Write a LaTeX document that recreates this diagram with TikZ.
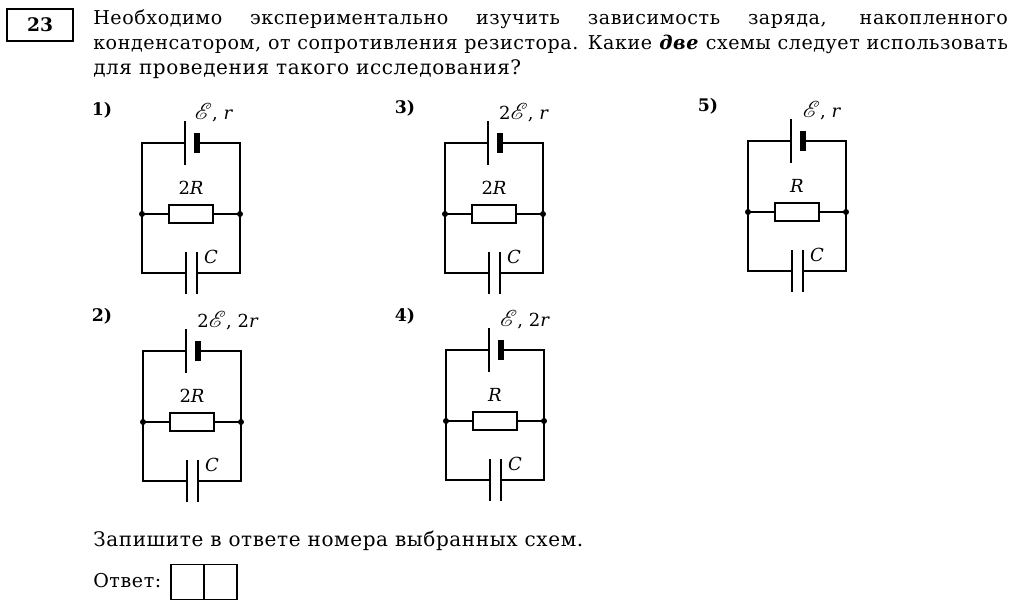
\documentclass[tikz,border=0pt]{standalone}
\usepackage{amsmath}
\usepackage{amssymb}
\usepackage{mathrsfs}
\usepackage{fontspec}
\setmainfont{DejaVu Serif}[LetterSpace=3]
\newfontfamily\labfont{DejaVu Serif}
\newcommand{\emf}{{\fontsize{17pt}{17pt}\selectfont$\mathscr{E}$}}
\usetikzlibrary{positioning}

\begin{document}
\begin{tikzpicture}[x=0.75pt,y=-0.75pt,
        wire/.style={draw,line width=1.4pt},
        plate/.style={draw=none,fill=black,inner sep=0pt,minimum width=1.5pt},
        res/.style={draw,line width=1.3pt,fill=white,inner sep=0pt,minimum width=33pt,minimum height=14pt},
        dot/.style={circle,fill=black,inner sep=0pt,minimum size=4.5pt},
        corner/.style={inner sep=0pt,minimum size=1.4pt},
        txt/.style={anchor=base west,inner sep=0pt,font=\fontsize{15pt}{18pt}\selectfont},
        jtxt/.style={txt,font=\fontsize{14.3pt}{18pt}\selectfont},
        lab/.style={inner sep=0pt,font=\labfont\fontsize{13.5pt}{16pt}\selectfont},
        num/.style={inner sep=0pt,font=\labfont\bfseries\fontsize{13pt}{15pt}\selectfont}]

  \useasboundingbox (0,0) rectangle (1024,604);
  \fill[white] (0,0) rectangle (1024,604);

  \node[draw,line width=0.9pt,minimum width=49.5pt,minimum height=24pt,inner sep=0pt,
        font=\labfont\bfseries\fontsize{14pt}{16pt}\selectfont] (task) at (40,25) {23};

  \node[jtxt] (line_1) at (93,24) {\makebox[686pt][s]{Необходимо экспериментально изучить зависимость заряда, накопленного}};
  \node[jtxt] (line_2) at (93,49) {\makebox[686pt][s]{конденсатором, от сопротивления резистора. Какие \textbf{\textit{две}} схемы следует использовать}};
  \node[txt] (line_3) at (93,74) {для проведения такого исследования?};
  \node[txt] (note) at (93,546) {Запишите в ответе номера выбранных схем.};
  \node[jtxt] (answer) at (93,587) {Ответ:};

  \node[draw,line width=0.9pt,minimum width=24.75pt,minimum height=26pt,inner sep=0pt] (cell_1) at (187.5,582) {};
  \node[draw,line width=0.9pt,minimum width=24.75pt,minimum height=26pt,inner sep=0pt,right=-0.9pt of cell_1] (cell_2) {};

  \foreach \n/\x/\y/\nx/\ny/\el/\ex/\rl in {
        1/142/143/102/110/{\emf, \textit{r}}/72/{2\textit{R}},
        2/143/351/102/316/{2\emf, 2\textit{r}}/85/{2\textit{R}},
        3/445/143/405/108/{2\emf, \textit{r}}/79/{2\textit{R}},
        4/446/350/405/316/{\emf, 2\textit{r}}/79/{\textit{R}},
        5/748/141/708/106/{\emf, \textit{r}}/74/{\textit{R}}} {
    \begin{scope}[shift={(\x,\y)}]
      \node[num] (num_\n) at (\nx-\x,\ny-\y) {\n)};

      \node[corner] (tl_\n) at (0,0) {};
      \node[corner] (tr_\n) at (98,0) {};
      \node[corner] (bl_\n) at (0,130) {};
      \node[corner] (br_\n) at (98,130) {};
      \node[dot] (ml_\n) at (0,71) {};
      \node[dot] (mr_\n) at (98,71) {};

      \node[plate,minimum height=33pt] (ea_\n) at (43,0) {};
      \node[plate,minimum height=14.5pt,minimum width=4pt] (eb_\n) at (55,0) {};
      \node[res] (r_\n) at (49,71) {};
      \node[plate,minimum height=31pt] (ca_\n) at (44,130) {};
      \node[plate,minimum height=31pt] (cb_\n) at (55,130) {};

      \node[lab] (el_\n) at (\ex,-30) {\el};
      \node[lab] (rl_\n) at (49,45) {\rl};
      \node[lab] (cl_\n) at (69,114) {\textit{C}};

      \path[wire] (ml_\n.center) -- (tl_\n.center) -- (ea_\n)
                  (eb_\n) -- (tr_\n.center) -- (mr_\n.center)
                  (ml_\n.center) -- (r_\n)
                  (r_\n) -- (mr_\n.center)
                  (ml_\n.center) -- (bl_\n.center) -- (ca_\n)
                  (cb_\n) -- (br_\n.center) -- (mr_\n.center);
    \end{scope}
  }

\end{tikzpicture}
\end{document}
